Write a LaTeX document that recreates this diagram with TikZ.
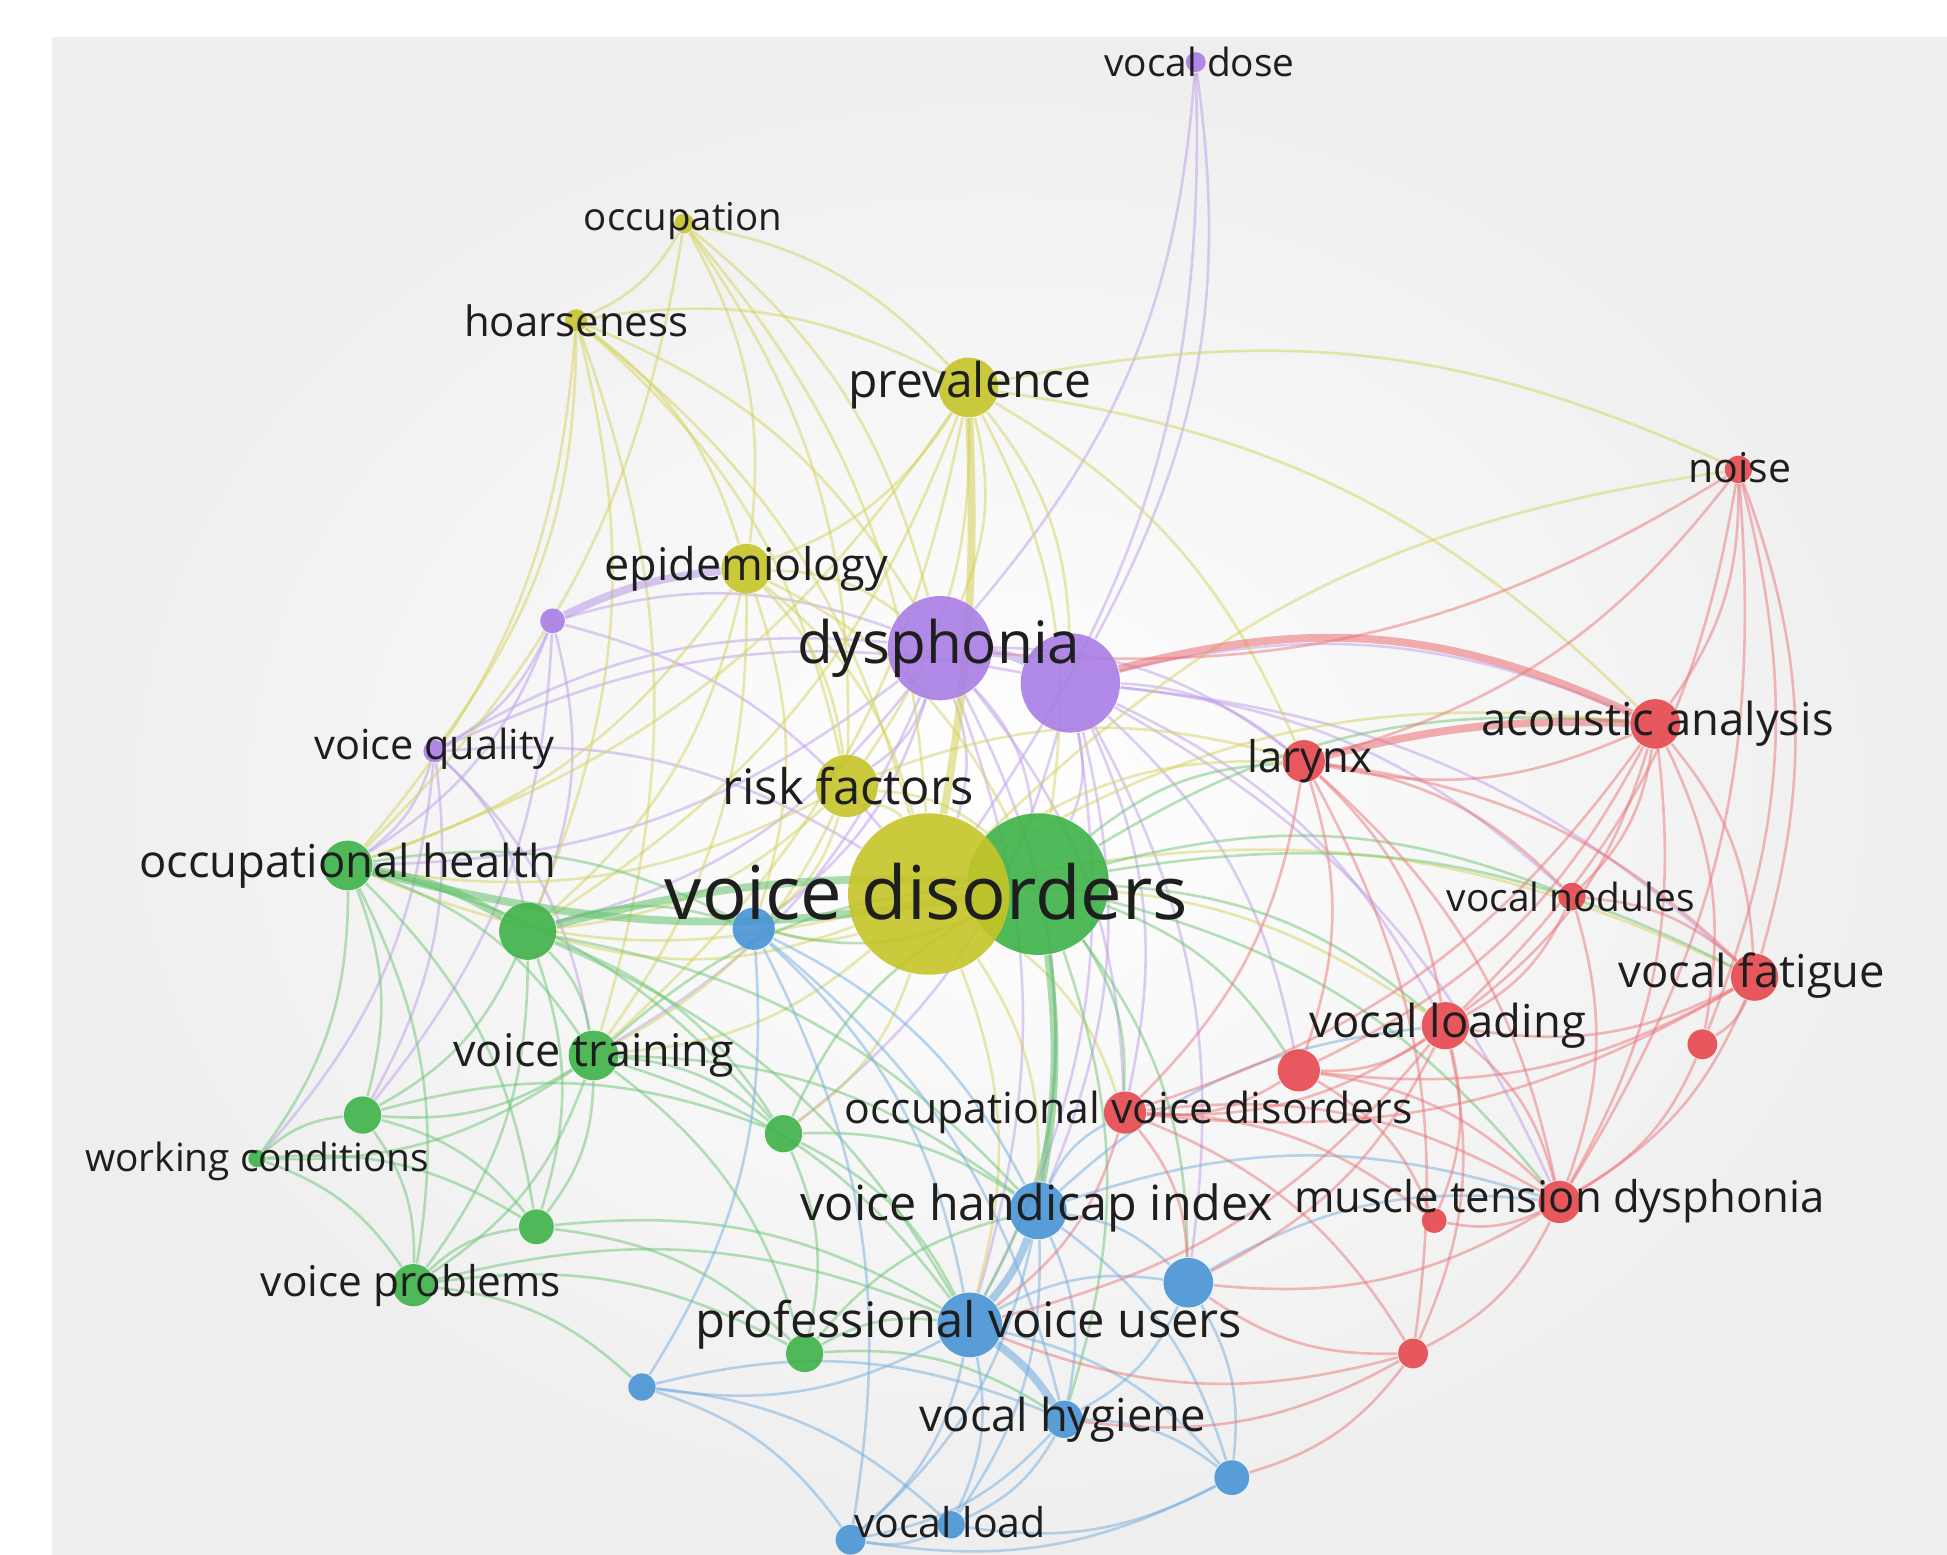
\documentclass[tikz,border=0pt]{standalone}
\usepackage{fontspec}
\setmainfont{Open Sans}
\usepackage{xcolor}
\usepackage{tikz}
\definecolor{clpurple}{RGB}{168,126,228}
\definecolor{clyellow}{RGB}{198,196,40}
\definecolor{clgreen}{RGB}{62,178,72}
\definecolor{clblue}{RGB}{72,148,214}
\definecolor{clred}{RGB}{230,72,78}
\definecolor{panelgrey}{RGB}{238,238,238}
\definecolor{labelink}{RGB}{30,30,30}
\pgfdeclarelayer{bg}
\pgfsetlayers{bg,main}
\tikzset{
  kw/.style={circle,inner sep=0pt,fill opacity=.9,minimum size=0.1mm*#1},
  link/.style={draw=#1!75!white,draw opacity=.5,line width=.6pt},
  heavylink/.style={draw=#1!80!white,draw opacity=.55,line width=1.8pt},
  term/.style={font=\fontsize{#1}{#1}\selectfont,text=labelink,inner sep=0pt}
}

\begin{document}
\begin{tikzpicture}[x=0.1mm,y=-0.1mm]
  \useasboundingbox (0,0) rectangle (1568,1252);
  % purple
  \node[kw=16,fill=clpurple] (vdose) at (963,50) {};
  \node[kw=20,fill=clpurple] (pp1) at (445,500) {};
  \node[kw=18,fill=clpurple] (vquality) at (350,605) {};
  \node[kw=84,fill=clpurple] (dysA) at (757,522) {};
  \node[kw=80,fill=clpurple] (dysB) at (862,550) {};
  % yellow
  \node[kw=16,fill=clyellow] (occup) at (551,180) {};
  \node[kw=18,fill=clyellow] (hoarse) at (464,258) {};
  \node[kw=48,fill=clyellow] (preval) at (780,312) {};
  \node[kw=40,fill=clyellow] (epid) at (601,458) {};
  \node[kw=50,fill=clyellow] (risk) at (682,633) {};
  % green
  \node[kw=114,fill=clgreen] (vdisG) at (836,712) {};
  \node[kw=40,fill=clgreen] (ohealth) at (280,697) {};
  \node[kw=46,fill=clgreen] (g1) at (425,750) {};
  \node[kw=40,fill=clgreen] (vtrain) at (478,850) {};
  \node[kw=30,fill=clgreen] (g2) at (292,898) {};
  \node[kw=14,fill=clgreen] (wcond) at (207,933) {};
  \node[kw=30,fill=clgreen] (g3) at (631,913) {};
  \node[kw=28,fill=clgreen] (g4) at (432,988) {};
  \node[kw=34,fill=clgreen] (vprob) at (333,1035) {};
  \node[kw=30,fill=clgreen] (g5) at (648,1090) {};
  \node[kw=130,fill=clyellow] (vdisY) at (748,720) {};
  % blue
  \node[kw=34,fill=clblue] (b1) at (607,748) {};
  \node[kw=46,fill=clblue] (vhi) at (836,975) {};
  \node[kw=40,fill=clblue] (b2) at (957,1033) {};
  \node[kw=52,fill=clblue] (pvu) at (781,1067) {};
  \node[kw=22,fill=clblue] (b3) at (517,1117) {};
  \node[kw=30,fill=clblue] (vhyg) at (857,1143) {};
  \node[kw=28,fill=clblue] (b4) at (992,1190) {};
  \node[kw=24,fill=clblue] (vloadA) at (685,1240) {};
  \node[kw=22,fill=clblue] (vload) at (766,1228) {};
  % red
  \node[kw=22,fill=clred] (noise) at (1400,378) {};
  \node[kw=40,fill=clred] (acoustic) at (1333,583) {};
  \node[kw=34,fill=clred] (larynx) at (1050,613) {};
  \node[kw=22,fill=clred] (nodules) at (1266,722) {};
  \node[kw=38,fill=clred] (fatigue) at (1413,787) {};
  \node[kw=38,fill=clred] (loading) at (1164,826) {};
  \node[kw=34,fill=clred] (r1) at (1046,862) {};
  \node[kw=24,fill=clred] (r2) at (1371,841) {};
  \node[kw=34,fill=clred] (ovd) at (906,896) {};
  \node[kw=34,fill=clred] (mtd) at (1256,968) {};
  \node[kw=20,fill=clred] (r3) at (1155,983) {};
  \node[kw=24,fill=clred] (r4) at (1138,1090) {};

  \begin{pgfonlayer}{bg}
    \fill[white] (0,0) rectangle (1568,1252);
    \shade[inner color=white,outer color=panelgrey] (42,30) rectangle (1568,1252);
    \foreach \a/\b in {vdose/dysA,vdose/dysB,vdose/vdisY,pp1/vquality,pp1/ohealth,
      pp1/dysA,pp1/vdisY,pp1/g1,pp1/g2,vquality/dysA,vquality/dysB,vquality/vdisY,
      vquality/ohealth,vquality/g1,vquality/g2,vquality/wcond,vquality/vtrain,
      dysA/vdisY,dysA/vdisG,dysA/risk,dysA/larynx,dysA/g1,dysA/b1,dysA/vtrain,
      dysA/ohealth,dysA/vhi,dysA/pvu,dysA/ovd,dysB/vdisG,dysB/larynx,dysB/acoustic,
      dysB/loading,dysB/fatigue,dysB/r1,dysB/mtd,dysB/vhi,dysB/ovd,dysB/nodules,
      dysB/b2,dysB/pvu,dysB/g3}
      \draw[link=clpurple] (\a) to[bend left=18] (\b);
    \foreach \a/\b in {occup/hoarse,occup/preval,occup/epid,occup/dysA,occup/vdisY,
      occup/risk,occup/ohealth,hoarse/epid,hoarse/preval,hoarse/vdisY,hoarse/risk,
      hoarse/dysA,hoarse/ohealth,hoarse/g1,hoarse/vtrain,hoarse/vquality,
      preval/epid,preval/risk,preval/dysA,preval/dysB,preval/vdisG,preval/larynx,
      preval/acoustic,preval/noise,preval/ohealth,preval/vtrain,preval/g1,
      epid/risk,epid/vdisY,epid/dysA,epid/vdisG,epid/g1,epid/ohealth,epid/vtrain,
      epid/b1,risk/vdisY,risk/vdisG,risk/g1,risk/b1,risk/ohealth,risk/vtrain,
      risk/larynx,vdisY/larynx,vdisY/acoustic,vdisY/loading,vdisY/fatigue,vdisY/ovd,
      vdisY/vhi,vdisY/pvu,vdisY/g1,vdisY/ohealth,vdisY/vtrain,vdisY/g3,vdisY/b1,
      vdisY/noise}
      \draw[link=clyellow] (\a) to[bend left=18] (\b);
    \foreach \a/\b in {ohealth/vtrain,ohealth/g2,ohealth/wcond,ohealth/vprob,
      ohealth/g4,ohealth/b1,ohealth/g3,g1/vtrain,g1/g2,g1/g4,g1/vprob,g1/g3,g1/b1,
      g1/pvu,g1/vhi,vtrain/g2,vtrain/g3,vtrain/g4,vtrain/vprob,vtrain/wcond,
      vtrain/vdisG,vtrain/pvu,vtrain/vhi,vtrain/g5,wcond/g2,wcond/vprob,wcond/g4,
      g2/vprob,g2/g4,g2/g3,vprob/g4,vprob/g5,vprob/pvu,vprob/b3,g4/g5,g4/pvu,
      g3/vdisG,g3/vhi,g3/pvu,g3/g5,g5/pvu,g5/vhyg,g5/vhi,vdisG/larynx,
      vdisG/acoustic,vdisG/loading,vdisG/fatigue,vdisG/ovd,vdisG/r1,vdisG/mtd,
      vdisG/nodules,vdisG/pvu,vdisG/b2,vdisG/b1,vdisG/vhyg}
      \draw[link=clgreen] (\a) to[bend left=18] (\b);
    \foreach \a/\b in {b1/pvu,b1/vhi,b1/vloadA,b1/vhyg,b1/b3,vhi/b2,vhi/vhyg,
      vhi/vload,vhi/vloadA,vhi/b4,vhi/ovd,vhi/loading,vhi/mtd,pvu/b3,pvu/vload,
      pvu/vloadA,pvu/b2,pvu/b4,b3/vloadA,b3/vload,b3/vhyg,vhyg/b4,vhyg/vload,
      vhyg/vloadA,b4/vload,b4/vloadA,vload/vloadA,b2/vhyg,b2/b4,b2/mtd}
      \draw[link=clblue] (\a) to[bend left=18] (\b);
    \foreach \a/\b in {noise/acoustic,noise/fatigue,noise/loading,noise/larynx,
      noise/r2,noise/mtd,noise/dysA,acoustic/larynx,acoustic/fatigue,
      acoustic/nodules,acoustic/loading,acoustic/mtd,acoustic/r2,acoustic/r1,
      acoustic/ovd,larynx/nodules,larynx/loading,larynx/r1,larynx/ovd,larynx/mtd,
      larynx/fatigue,larynx/r4,nodules/fatigue,nodules/loading,nodules/mtd,
      fatigue/loading,fatigue/r2,fatigue/mtd,fatigue/r1,fatigue/ovd,loading/r1,
      loading/ovd,loading/mtd,loading/r3,loading/r4,loading/b2,loading/pvu,
      r1/ovd,r1/mtd,r1/r3,r2/mtd,ovd/mtd,ovd/r3,ovd/pvu,ovd/b2,ovd/r4,mtd/r3,
      mtd/r4,mtd/b2,r4/vhyg,r4/b4,r4/pvu,r4/b2}
      \draw[link=clred] (\a) to[bend left=18] (\b);
    \draw[heavylink=clpurple] (pp1) to[bend left=10] (epid);
    \draw[heavylink=clpurple] (dysA) to[bend left=10] (dysB);
    \draw[heavylink=clyellow] (preval) to[bend left=6] (vdisY);
    \draw[heavylink=clyellow] (vdisY) to[bend left=10] (vdisG);
    \draw[heavylink=clgreen] (ohealth) to[bend left=10] (g1);
    \draw[heavylink=clgreen] (ohealth) to[bend right=12] (vdisG);
    \draw[heavylink=clgreen] (g1) to[bend left=8] (vdisG);
    \draw[heavylink=clgreen] (vdisG) to[bend left=8] (vhi);
    \draw[heavylink=clblue] (vhi) to[bend left=10] (pvu);
    \draw[heavylink=clblue] (pvu) to[bend left=10] (vhyg);
    \draw[heavylink=clred] (larynx) to[bend left=8] (acoustic);
    \draw[heavylink=clred] (acoustic) to[bend right=20] (dysB);
  \end{pgfonlayer}

  \node[term=8.9] (t-vdose) at (966,50) {vocal dose};
  \node[term=8.8] (t-occup) at (550,178) {occupation};
  \node[term=9.6] (t-hoarse) at (464,258) {hoarseness};
  \node[term=11] (t-preval) at (781,310) {prevalence};
  \node[term=10.3] (t-epid) at (601,458) {epidemiology};
  \node[term=13.4] (t-dys) at (756,522) {dysphonia};
  \node[term=9.5] (t-vquality) at (350,603) {voice quality};
  \node[term=11.2] (t-risk) at (683,633) {risk factors};
  \node[term=10.4] (t-ohealth) at (280,697) {occupational health};
  \node[term=17] (t-vdis) at (746,718) {voice disorders};
  \node[term=10.3] (t-vtrain) at (478,850) {voice training};
  \node[term=8.9] (t-wcond) at (207,935) {working conditions};
  \node[term=9.7] (t-vprob) at (331,1035) {voice problems};
  \node[term=11.1] (t-vhi) at (835,973) {voice handicap index};
  \node[term=11.2] (t-pvu) at (780,1067) {professional voice users};
  \node[term=10.4] (t-vhyg) at (856,1143) {vocal hygiene};
  \node[term=9.4] (t-vload) at (765,1226) {vocal load};
  \node[term=9.4] (t-noise) at (1401,377) {noise};
  \node[term=10.4] (t-acoustic) at (1335,583) {acoustic analysis};
  \node[term=10] (t-larynx) at (1055,613) {larynx};
  \node[term=8.9] (t-nodules) at (1265,722) {vocal nodules};
  \node[term=10.4] (t-fatigue) at (1411,786) {vocal fatigue};
  \node[term=10.4] (t-loading) at (1166,826) {vocal loading};
  \node[term=9.8] (t-ovd) at (909,896) {occupational voice disorders};
  \node[term=10] (t-mtd) at (1256,967) {muscle tension dysphonia};
\end{tikzpicture}
\end{document}
